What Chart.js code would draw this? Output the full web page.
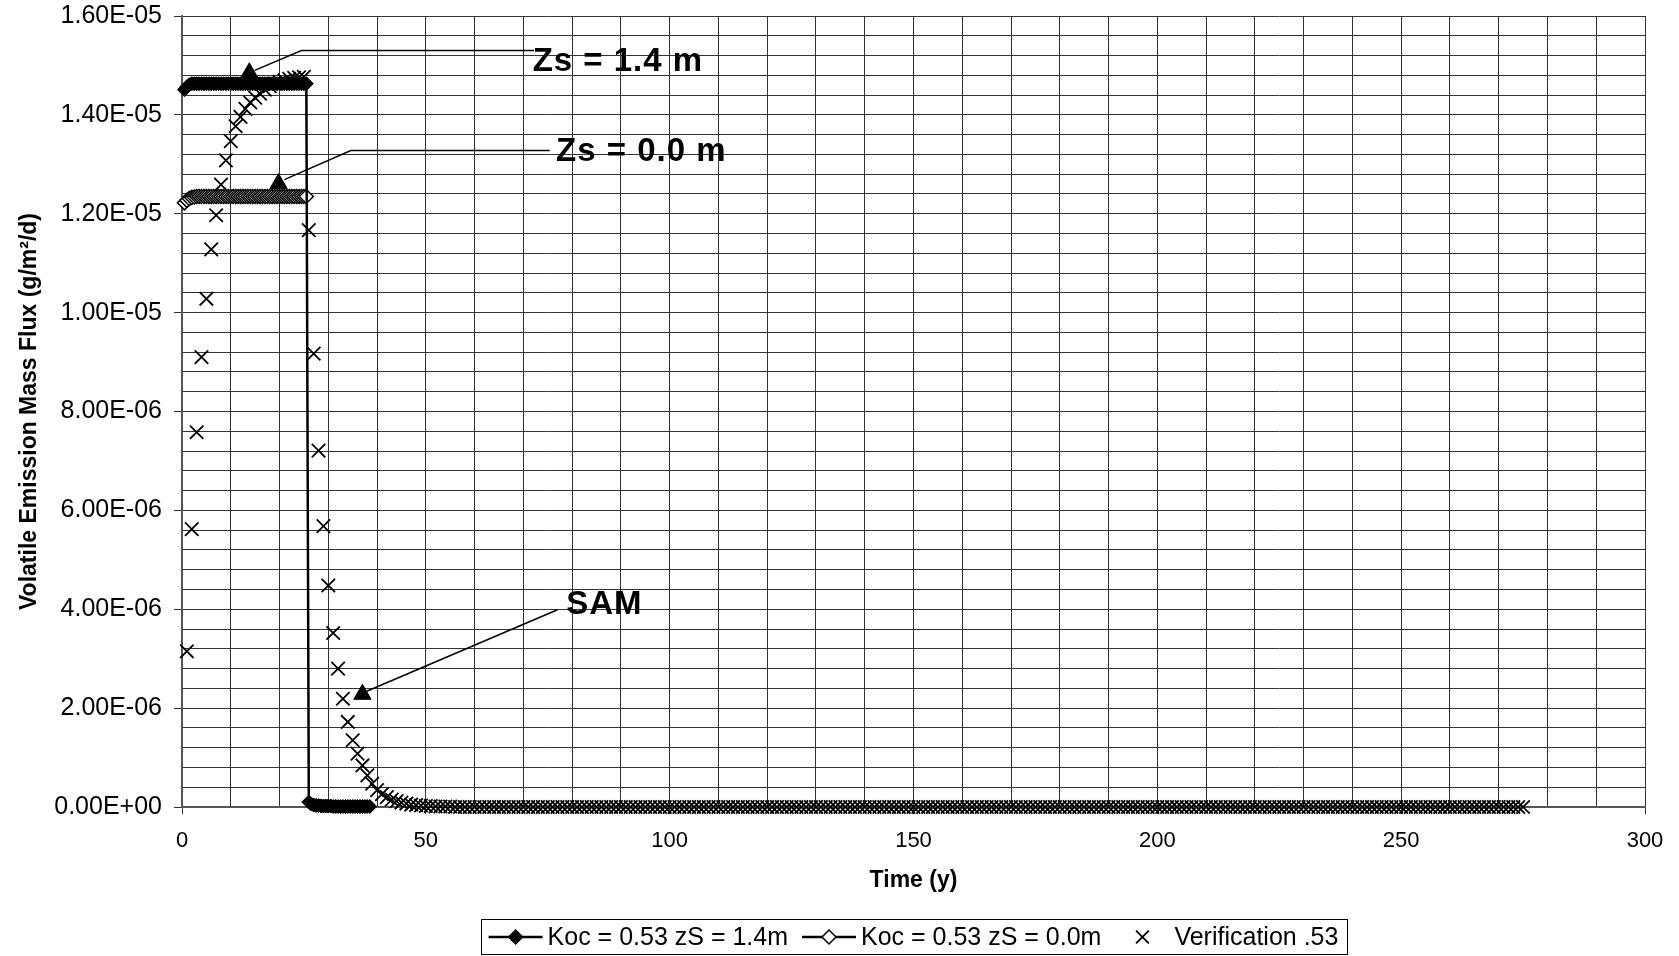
<!DOCTYPE html>
<html>
<head>
<meta charset="utf-8">
<title>Volatile Emission Mass Flux</title>
<script src="https://cdn.jsdelivr.net/npm/chart.js@4.4.0/dist/chart.umd.min.js"></script>
<style>
  html, body { margin: 0; padding: 0; background: #fff; }
  #wrap { width: 1679px; height: 956px; }
</style>
</head>
<body>
<div id="wrap"><canvas id="chart" width="1679" height="956"></canvas></div>
<script>
// flux values, in units of 1e-6 g/m2/d
const FLUX_UNIT = 1e-6;

// model output, every half year starting at 0.5 y
const modelStep = 0.5;
const koc14 = [
  14.51, 14.57, 14.61, 14.63, 14.63, 14.63, 14.63, 14.63, 14.63, 14.63,
  14.63, 14.63, 14.63, 14.63, 14.63, 14.63, 14.63, 14.63, 14.63, 14.63,
  14.63, 14.63, 14.63, 14.63, 14.63, 14.63, 14.63, 14.63, 14.63, 14.63,
  14.63, 14.63, 14.63, 14.63, 14.63, 14.63, 14.63, 14.63, 14.63, 14.63,
  14.63, 14.63, 14.63, 14.63, 14.63, 14.63, 14.63, 14.63, 14.63, 14.63,
  14.63, 0.10, 0.06, 0.04, 0.03, 0.03, 0.02, 0.02, 0.02, 0.02,
  0.02, 0.01, 0.01, 0.01, 0.01, 0.01, 0.01, 0.01, 0.01, 0.01,
  0.01, 0.01, 0.01, 0.01, 0.01, 0.01, 0.01
];
const koc00 = [
  12.22, 12.27, 12.31, 12.33, 12.34, 12.35, 12.35, 12.35, 12.35, 12.35,
  12.35, 12.35, 12.35, 12.35, 12.35, 12.35, 12.35, 12.35, 12.35, 12.35,
  12.35, 12.35, 12.35, 12.35, 12.35, 12.35, 12.35, 12.35, 12.35, 12.35,
  12.35, 12.35, 12.35, 12.35, 12.35, 12.35, 12.35, 12.35, 12.35, 12.35,
  12.35, 12.35, 12.35, 12.35, 12.35, 12.35, 12.35, 12.35, 12.35, 12.35,
  12.35
];

// verification run, one value per year starting at year 1
const verification = [
  3.15, 5.62, 7.58, 9.10, 10.28, 11.28, 11.97, 12.59, 13.08, 13.47,
  13.77, 13.96, 14.12, 14.25, 14.35, 14.43, 14.51, 14.58, 14.63, 14.67,
  14.70, 14.73, 14.75, 14.76, 14.77, 11.67, 9.17, 7.21, 5.68, 4.48,
  3.52, 2.80, 2.19, 1.72, 1.35, 1.08, 0.84, 0.64, 0.47, 0.34,
  0.26, 0.20, 0.15, 0.12, 0.09, 0.07, 0.05, 0.04, 0.03, 0.02,
  0.02, 0.01, 0.01, 0.01, 0.01, 0, 0, 0, 0, 0,
  0, 0, 0, 0, 0, 0, 0, 0, 0, 0,
  0, 0, 0, 0, 0, 0, 0, 0, 0, 0,
  0, 0, 0, 0, 0, 0, 0, 0, 0, 0,
  0, 0, 0, 0, 0, 0, 0, 0, 0, 0,
  0, 0, 0, 0, 0, 0, 0, 0, 0, 0,
  0, 0, 0, 0, 0, 0, 0, 0, 0, 0,
  0, 0, 0, 0, 0, 0, 0, 0, 0, 0,
  0, 0, 0, 0, 0, 0, 0, 0, 0, 0,
  0, 0, 0, 0, 0, 0, 0, 0, 0, 0,
  0, 0, 0, 0, 0, 0, 0, 0, 0, 0,
  0, 0, 0, 0, 0, 0, 0, 0, 0, 0,
  0, 0, 0, 0, 0, 0, 0, 0, 0, 0,
  0, 0, 0, 0, 0, 0, 0, 0, 0, 0,
  0, 0, 0, 0, 0, 0, 0, 0, 0, 0,
  0, 0, 0, 0, 0, 0, 0, 0, 0, 0,
  0, 0, 0, 0, 0, 0, 0, 0, 0, 0,
  0, 0, 0, 0, 0, 0, 0, 0, 0, 0,
  0, 0, 0, 0, 0, 0, 0, 0, 0, 0,
  0, 0, 0, 0, 0, 0, 0, 0, 0, 0,
  0, 0, 0, 0, 0, 0, 0, 0, 0, 0,
  0, 0, 0, 0, 0, 0, 0, 0, 0, 0,
  0, 0, 0, 0, 0
];

const legendLabels = ['Koc = 0.53 zS = 1.4m', 'Koc = 0.53 zS = 0.0m', 'Verification .53'];

// callouts (time in y, flux in 1e-6): triangle marks, leader lines, labels
const noteLabels = ['Zs = 1.4 m', 'Zs = 0.0 m', 'SAM'];
const noteMarkX = [13.8, 19.8, 37.0];
const noteMarkY = [14.85, 12.61, 2.28];
const leaderX = [[14.9, 24.5, 72.2], [21.0, 34.6, 75.4], [37.4, 77.0]];
const leaderY = [[14.90, 15.30, 15.30], [12.69, 13.28, 13.28], [2.32, 3.99]];
const noteTextX = [71.9, 76.7, 78.8];
const noteTextY = [14.88, 13.06, 3.91];

// axes
const xMax = 300, xStep = 10, xLabelEvery = 50;
const yMax = 16, yStep = 0.4, yLabelEvery = 2;

const FONT = '"Liberation Sans", Arial, sans-serif';

function sci(v) {
  if (Math.abs(v) < 1e-20) return '0.00E+00';
  const parts = v.toExponential(2).split('e');
  const n = parseInt(parts[1], 10);
  return parts[0] + 'E' + (n < 0 ? '-' : '+') + String(Math.abs(n)).padStart(2, '0');
}
function isYLabel(v) {
  const q = v / (yLabelEvery * FLUX_UNIT);
  return Math.abs(q - Math.round(q)) < 1e-6;
}
function isXLabel(v) {
  return Math.abs(v % xLabelEvery) < 1e-9;
}

const modelPts = (arr) => arr.map((v, i) => ({ x: (i + 1) * modelStep, y: v * FLUX_UNIT }));
const verifPts = verification.map((v, i) => ({ x: i + 1, y: v * FLUX_UNIT }));

const leaderSets = leaderX.map((xs, k) => ({
  data: xs.map((xv, j) => ({ x: xv, y: leaderY[k][j] * FLUX_UNIT })),
  showLine: true,
  borderColor: '#000',
  borderWidth: 1.5,
  pointRadius: 0,
  order: 0,
  clip: false
}));

// bold callout labels placed in data space
const notesPlugin = {
  id: 'notes',
  afterDatasetsDraw(chart) {
    const { ctx, scales } = chart;
    ctx.save();
    ctx.font = 'bold 33px ' + FONT;
    ctx.letterSpacing = '1px';
    ctx.fillStyle = '#000';
    ctx.textAlign = 'left';
    ctx.textBaseline = 'alphabetic';
    noteLabels.forEach((t, i) => {
      ctx.fillText(t, scales.x.getPixelForValue(noteTextX[i]), scales.y.getPixelForValue(noteTextY[i] * FLUX_UNIT));
    });
    ctx.restore();
  }
};

function diamond(ctx, x, y, r, fill) {
  ctx.beginPath();
  ctx.moveTo(x - r, y);
  ctx.lineTo(x, y - r);
  ctx.lineTo(x + r, y);
  ctx.lineTo(x, y + r);
  ctx.closePath();
  ctx.fillStyle = fill;
  ctx.fill();
  ctx.stroke();
}

// boxed legend under the axis title, excel style (line + marker)
const boxLegend = {
  id: 'boxLegend',
  afterDraw(chart) {
    const ctx = chart.ctx;
    ctx.save();
    ctx.font = '25px ' + FONT;
    const symW = 54, gap = 5, itemGap = 14, padX = 8;
    const widths = legendLabels.map(t => ctx.measureText(t).width);
    let total = padX * 2 + itemGap * (widths.length - 1);
    widths.forEach(w => { total += symW + gap + w; });
    const mid = (chart.chartArea.left + chart.chartArea.right) / 2;
    const top = chart.height - 37, h = 36, cy = top + h / 2;
    let x = mid - total / 2;

    ctx.strokeStyle = '#000';
    ctx.lineWidth = 1;
    ctx.strokeRect(Math.round(x) + 0.5, Math.round(top) + 0.5, Math.round(total), h - 1);

    x += padX;
    legendLabels.forEach((t, i) => {
      const cx = x + symW / 2;
      ctx.strokeStyle = '#000';
      if (i < 2) {
        ctx.lineWidth = 2.5;
        ctx.beginPath();
        ctx.moveTo(x, cy);
        ctx.lineTo(x + symW, cy);
        ctx.stroke();
        ctx.lineWidth = 1.5;
        diamond(ctx, cx, cy, 7, i === 0 ? '#000' : '#fff');
      } else {
        ctx.lineWidth = 1.8;
        const d = 6.4;
        ctx.beginPath();
        ctx.moveTo(cx - d, cy - d); ctx.lineTo(cx + d, cy + d);
        ctx.moveTo(cx + d, cy - d); ctx.lineTo(cx - d, cy + d);
        ctx.stroke();
      }
      ctx.fillStyle = '#000';
      ctx.textAlign = 'left';
      ctx.textBaseline = 'middle';
      ctx.fillText(t, x + symW + gap, cy + 1);
      x += symW + gap + widths[i] + itemGap;
    });
    ctx.restore();
  }
};

const chart = document.querySelector('#chart').getContext('2d');
new Chart(chart, {
  type: 'scatter',
  data: {
    datasets: [
      {
        label: legendLabels[2],
        data: verifPts,
        pointStyle: 'crossRot',
        pointRadius: 9.5,
        pointHoverRadius: 9.5,
        borderColor: '#000',
        borderWidth: 1.8,
        showLine: false,
        order: 0,
        clip: false
      },
      {
        label: legendLabels[0],
        data: modelPts(koc14),
        showLine: true,
        borderColor: '#000',
        borderWidth: 2.5,
        pointStyle: 'rectRot',
        pointRadius: 7,
        pointHoverRadius: 7,
        pointBackgroundColor: '#000',
        pointBorderColor: '#000',
        pointBorderWidth: 1,
        order: 1,
        clip: false
      },
      {
        label: legendLabels[1],
        data: modelPts(koc00),
        showLine: true,
        borderColor: '#000',
        borderWidth: 2.5,
        pointStyle: 'rectRot',
        pointRadius: 7,
        pointHoverRadius: 7,
        pointBackgroundColor: '#fff',
        pointBorderColor: '#000',
        pointBorderWidth: 1.5,
        order: 2,
        clip: false
      },
      {
        label: 'marks',
        data: noteMarkX.map((xv, i) => ({ x: xv, y: noteMarkY[i] * FLUX_UNIT })),
        pointStyle: 'triangle',
        pointRadius: 10,
        pointHoverRadius: 10,
        pointBackgroundColor: '#000',
        pointBorderColor: '#000',
        pointBorderWidth: 1,
        showLine: false,
        order: 0,
        clip: false
      },
      ...leaderSets
    ]
  },
  options: {
    responsive: false,
    animation: false,
    layout: { padding: { left: 0, right: 34, top: 16, bottom: 62 } },
    plugins: {
      legend: { display: false },
      tooltip: { enabled: false }
    },
    scales: {
      x: {
        type: 'linear',
        min: 0,
        max: xMax,
        afterFit: (s) => { s.height = 87; s.paddingLeft = 0; s.paddingRight = 0; },
        border: { display: true, color: '#555', width: 2 },
        grid: {
          color: '#333',
          lineWidth: 1,
          tickLength: 7,
          tickColor: (c) => (c.tick && isXLabel(c.tick.value)) ? '#333' : 'rgba(0,0,0,0)'
        },
        ticks: {
          stepSize: xStep,
          autoSkip: false,
          maxRotation: 0,
          padding: 14,
          color: '#000',
          font: { family: FONT, size: 22 },
          callback: (v) => isXLabel(v) ? String(v) : ''
        },
        title: {
          display: true,
          text: 'Time (y)',
          color: '#000',
          font: { family: FONT, size: 23, weight: 'bold' },
          padding: { top: 0, bottom: 0 }
        }
      },
      y: {
        type: 'linear',
        min: 0,
        max: yMax * FLUX_UNIT,
        afterFit: (s) => { s.width = 182; s.paddingTop = 0; s.paddingBottom = 0; },
        border: { display: true, color: '#555', width: 2 },
        grid: {
          color: '#333',
          lineWidth: 1,
          tickLength: 8,
          tickColor: (c) => (c.tick && isYLabel(c.tick.value)) ? '#333' : 'rgba(0,0,0,0)'
        },
        ticks: {
          stepSize: yStep * FLUX_UNIT,
          autoSkip: false,
          padding: 12,
          color: '#000',
          font: { family: FONT, size: 25 },
          callback: (v) => isYLabel(v) ? sci(v) : ''
        },
        title: {
          display: true,
          text: 'Volatile Emission Mass Flux (g/m²/d)',
          color: '#000',
          font: { family: FONT, size: 23, weight: 'bold' },
          padding: { top: 16, bottom: 0 }
        }
      }
    }
  },
  plugins: [notesPlugin, boxLegend]
});
</script>
</body>
</html>
